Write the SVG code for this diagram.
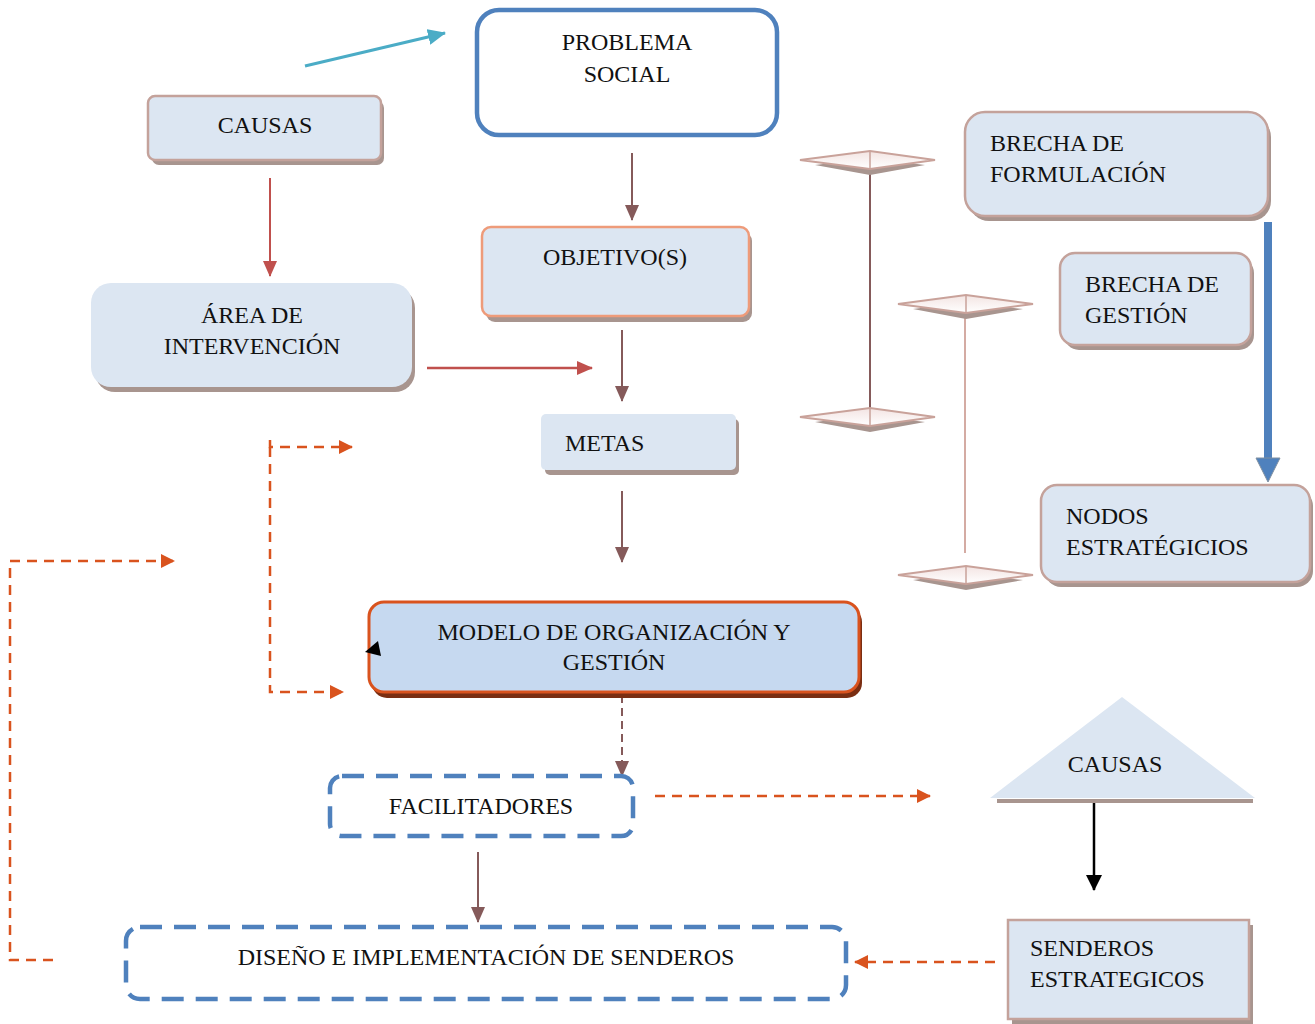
<svg xmlns="http://www.w3.org/2000/svg" width="1315" height="1024" viewBox="0 0 1315 1024">
<defs>
<marker id="ahBrown" markerWidth="16" markerHeight="14" refX="15" refY="7" orient="auto" markerUnits="userSpaceOnUse"><path d="M0,0 L16,7 L0,14 Z" fill="#855A5A"/></marker>
<marker id="ahRed" markerWidth="16" markerHeight="14" refX="15" refY="7" orient="auto" markerUnits="userSpaceOnUse"><path d="M0,0 L16,7 L0,14 Z" fill="#C0504D"/></marker>
<marker id="ahTeal" markerWidth="18" markerHeight="16" refX="17" refY="8" orient="auto" markerUnits="userSpaceOnUse"><path d="M0,0 L18,8 L0,16 Z" fill="#4BACC6"/></marker>
<marker id="ahOrange" markerWidth="14" markerHeight="14" refX="13" refY="7" orient="auto" markerUnits="userSpaceOnUse"><path d="M0,0 L14,7 L0,14 Z" fill="#D9531E"/></marker>
<marker id="ahBlack" markerWidth="16" markerHeight="16" refX="15" refY="8" orient="auto" markerUnits="userSpaceOnUse"><path d="M0,0 L16,8 L0,16 Z" fill="#000"/></marker>
<linearGradient id="dg" x1="0" y1="0" x2="0" y2="1"><stop offset="0" stop-color="#F3E4E2"/><stop offset="1" stop-color="#FFFFFF"/></linearGradient>
</defs>
<style>
text{font-family:"Liberation Serif","Times New Roman",serif;font-size:24px;fill:#111;}
.c{text-anchor:middle;}
.box{fill:#DCE6F2;stroke:#C4A29B;stroke-width:2.5;}
.boxn{fill:#DCE6F2;}
.sh{fill:#A8958F;}
.ln{fill:none;stroke:#855A5A;stroke-width:2;}
.dash{fill:none;stroke:#D9531E;stroke-width:2.5;stroke-dasharray:10,7;}
.bdash{fill:#fff;stroke:#4F81BD;stroke-width:4.5;stroke-dasharray:22,12;}
.dia{fill:url(#dg);stroke:#C9A29A;stroke-width:2;}
.diash{fill:#A8958F;}
</style>
<rect width="1315" height="1024" fill="#fff"/>

<g id="connectors">
<line x1="305" y1="66" x2="445" y2="33" stroke="#4BACC6" stroke-width="3" marker-end="url(#ahTeal)"/>
<line x1="270" y1="178" x2="270" y2="276" stroke="#C0504D" stroke-width="2" marker-end="url(#ahRed)"/>
<line x1="427" y1="368" x2="592" y2="368" stroke="#C0504D" stroke-width="2.5" marker-end="url(#ahRed)"/>
<line class="ln" x1="632" y1="153" x2="632" y2="220" marker-end="url(#ahBrown)"/>
<line class="ln" x1="622" y1="330" x2="622" y2="401" marker-end="url(#ahBrown)"/>
<line class="ln" x1="622" y1="491" x2="622" y2="562" marker-end="url(#ahBrown)"/>
<line x1="622" y1="695" x2="622" y2="776" stroke="#855A5A" stroke-width="2" stroke-dasharray="8,5" marker-end="url(#ahBrown)"/>
<line class="ln" x1="478" y1="852" x2="478" y2="922" marker-end="url(#ahBrown)"/>
<line class="dash" x1="655" y1="796" x2="930" y2="796" marker-end="url(#ahOrange)"/>
<line class="dash" x1="995" y1="962" x2="855" y2="962" marker-end="url(#ahOrange)"/>
<polyline class="dash" points="53,960 10,960 10,561 174,561" marker-end="url(#ahOrange)"/>
<polyline class="dash" points="270,440 270,447 352,447" marker-end="url(#ahOrange)"/>
<polyline class="dash" points="270,447 270,692 343,692" marker-end="url(#ahOrange)"/>
<line x1="1094" y1="800" x2="1094" y2="890" stroke="#000" stroke-width="2.5" marker-end="url(#ahBlack)"/>
<line x1="1268" y1="222" x2="1268" y2="460" stroke="#4F81BD" stroke-width="8"/>
<path d="M1256,458 L1280,458 L1268,482 Z" fill="#4F81BD" stroke="#7F8FA0" stroke-width="1"/>
<line x1="870" y1="166" x2="870" y2="410" stroke="#855A5A" stroke-width="2"/>
<line x1="965" y1="312" x2="965" y2="553" stroke="#D4ABA3" stroke-width="2"/>
</g>

<g id="diamond1">
<path class="diash" d="M815,165 L870,158 L925,165 L870,175 Z"/>
<path class="dia" d="M800,160 L870,151 L935,160 L870,169 Z"/>
<line x1="870" y1="151" x2="870" y2="169" stroke="#C9A29A" stroke-width="1.5"/>
</g>
<g id="diamond2">
<path class="diash" d="M815,422 L870,415 L925,422 L870,432 Z"/>
<path class="dia" d="M800,417 L870,408 L935,417 L870,426 Z"/>
<line x1="870" y1="408" x2="870" y2="426" stroke="#C9A29A" stroke-width="1.5"/>
</g>
<g id="diamond3">
<path class="diash" d="M913,309 L966,302 L1023,309 L966,319 Z"/>
<path class="dia" d="M898,304 L966,295 L1033,304 L966,313 Z"/>
<line x1="966" y1="295" x2="966" y2="313" stroke="#C9A29A" stroke-width="1.5"/>
</g>
<g id="diamond4">
<path class="diash" d="M913,580 L966,573 L1023,580 L966,590 Z"/>
<path class="dia" d="M898,575 L966,566 L1033,575 L966,584 Z"/>
<line x1="966" y1="566" x2="966" y2="584" stroke="#C9A29A" stroke-width="1.5"/>
</g>

<g id="problema">
<rect x="477" y="10" width="300" height="125" rx="22" fill="#fff" stroke="#4F81BD" stroke-width="4.5"/>
<text class="c" x="627" y="50">PROBLEMA</text>
<text class="c" x="627" y="82">SOCIAL</text>
</g>

<g id="causas1">
<rect class="sh" x="152" y="101" width="232" height="64" rx="7"/>
<rect class="box" x="148" y="96" width="233" height="64" rx="7"/>
<text class="c" x="265" y="133">CAUSAS</text>
</g>

<g id="area">
<rect class="sh" x="95" y="288" width="320" height="104" rx="20"/>
<rect class="boxn" x="91" y="283" width="321" height="104" rx="20"/>
<text class="c" x="252" y="323">ÁREA DE</text>
<text class="c" x="252" y="354">INTERVENCIÓN</text>
</g>

<g id="objetivo">
<rect class="sh" x="486" y="232" width="266" height="90" rx="9"/>
<rect x="482" y="227" width="267" height="89" rx="9" fill="#DCE6F2" stroke="#EE9B7A" stroke-width="2.5"/>
<text class="c" x="615" y="265">OBJETIVO(S)</text>
</g>

<g id="metas">
<rect class="sh" x="545" y="419" width="194" height="56" rx="5"/>
<rect class="boxn" x="541" y="414" width="195" height="56" rx="5"/>
<text x="565" y="451">METAS</text>
</g>

<g id="modelo">
<rect x="372" y="607" width="490" height="91" rx="15" fill="#7A2E12"/>
<rect x="369" y="602" width="490" height="90" rx="15" fill="#C6D9F0" stroke="#D9531E" stroke-width="3"/>
<text class="c" x="614" y="640">MODELO DE ORGANIZACIÓN Y</text>
<text class="c" x="614" y="670">GESTIÓN</text>
<path d="M365,652 L378,641 L381,656 Z" fill="#000"/>
</g>

<g id="facilitadores">
<rect class="bdash" x="330" y="776" width="303" height="60" rx="12"/>
<text class="c" x="481" y="814">FACILITADORES</text>
</g>

<g id="diseno">
<rect class="bdash" x="126" y="927" width="720" height="72" rx="14"/>
<text class="c" x="486" y="965">DISEÑO E IMPLEMENTACIÓN DE SENDEROS</text>
</g>

<g id="brecha_form">
<rect class="sh" x="969" y="117" width="302" height="104" rx="20"/>
<rect class="box" x="965" y="112" width="303" height="104" rx="20"/>
<text x="990" y="151">BRECHA DE</text>
<text x="990" y="182">FORMULACIÓN</text>
</g>

<g id="brecha_gest">
<rect class="sh" x="1064" y="258" width="190" height="92" rx="15"/>
<rect class="box" x="1060" y="253" width="191" height="92" rx="15"/>
<text x="1085" y="292">BRECHA DE</text>
<text x="1085" y="323">GESTIÓN</text>
</g>

<g id="nodos">
<rect class="sh" x="1045" y="490" width="268" height="97" rx="16"/>
<rect class="box" x="1041" y="485" width="269" height="97" rx="16"/>
<text x="1066" y="524">NODOS</text>
<text x="1066" y="555">ESTRATÉGICIOS</text>
</g>

<g id="causas2">
<path d="M997,799 L1253,799 L1253,803 L997,803 Z" fill="#A8958F"/>
<path d="M990,798 L1122,697 L1255,798 Z" fill="#DCE6F2"/>
<text class="c" x="1115" y="772">CAUSAS</text>
</g>

<g id="senderos">
<rect class="sh" x="1012" y="925" width="241" height="99"/>
<rect class="box" x="1008" y="920" width="241" height="99"/>
<text x="1030" y="956">SENDEROS</text>
<text x="1030" y="987">ESTRATEGICOS</text>
</g>
</svg>
